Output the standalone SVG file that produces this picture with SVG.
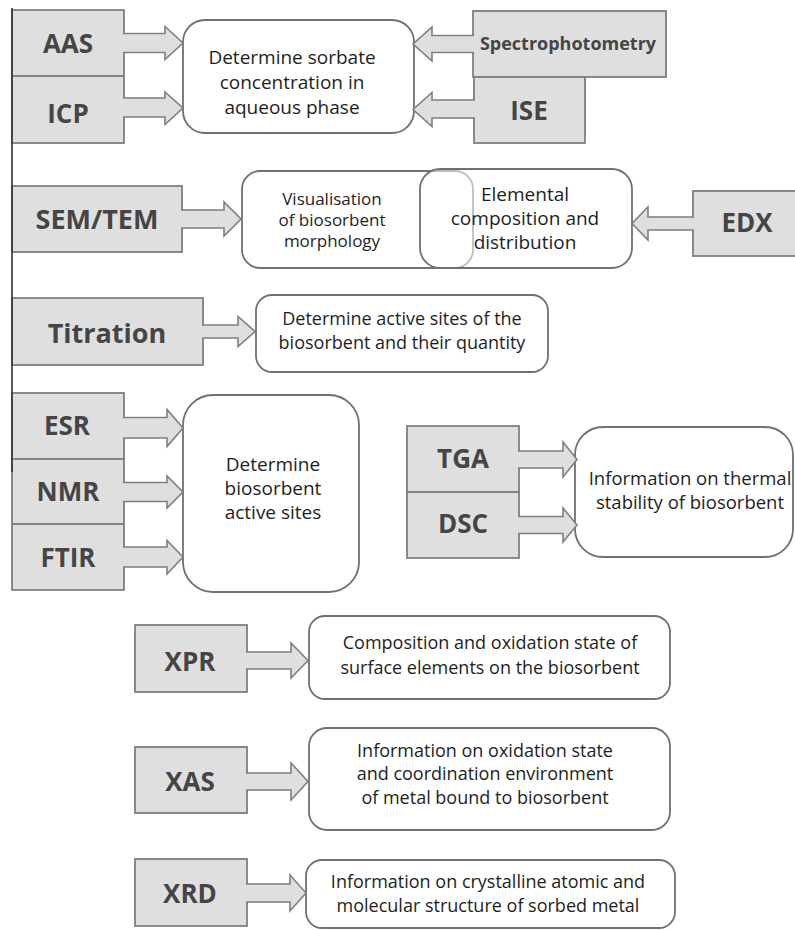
<svg xmlns="http://www.w3.org/2000/svg" width="795" height="930" viewBox="0 0 795 930">
<style>
.box{fill:#dfdfdf;stroke:#7f7f7f;stroke-width:1.8}
.rbox{fill:#ffffff;stroke:#707070;stroke-width:1.8}
.arr{fill:#dfdfdf;stroke:#7f7f7f;stroke-width:1.6;stroke-linejoin:miter}
.lab{font-family:"Open Sans","Noto Sans",sans-serif;font-weight:bold;font-size:26px;fill:#454545;text-anchor:middle}
.txt{font-family:"Open Sans","Noto Sans",sans-serif;font-size:19px;fill:#1e1e1e;text-anchor:middle}
</style>
<rect width="795" height="930" fill="#ffffff"/>

<g id="target-aqueous"><rect class="rbox" x="183" y="20" width="231" height="113" rx="22"/>
<text class="txt" style="font-size:19px"><tspan x="292" y="64">Determine sorbate</tspan><tspan x="292" y="89">concentration in</tspan><tspan x="292" y="114">aqueous phase</tspan></text></g>

<g id="node-AAS"><rect class="box" x="12" y="10" width="112" height="66"/><text class="lab" x="68" y="53">AAS</text></g>
<g id="node-ICP"><rect class="box" x="12" y="76" width="112" height="67"/><text class="lab" x="68" y="123">ICP</text></g>
<g id="node-Spectrophotometry"><rect class="box" x="473" y="11" width="193" height="66"/><text class="lab" style="font-size:18px" x="568" y="50">Spectrophotometry</text></g>
<g id="node-ISE"><rect class="box" x="474" y="77" width="111" height="66"/><text class="lab" x="529" y="120">ISE</text></g>

<g id="target-visualisation"><rect class="rbox" x="242" y="171" width="231" height="97" rx="18"/>
<text class="txt" style="font-size:17px"><tspan x="332" y="205">Visualisation</tspan><tspan x="332" y="226">of biosorbent</tspan><tspan x="332" y="247">morphology</tspan></text></g>
<g id="target-elemental"><rect class="rbox" style="fill-opacity:0.55" x="420" y="169" width="212" height="99" rx="20"/>
<text class="txt"><tspan x="525" y="201">Elemental</tspan><tspan x="525" y="225">composition and</tspan><tspan x="525" y="249">distribution</tspan></text></g>
<g id="node-SEMTEM"><rect class="box" x="12" y="186" width="170" height="66"/><text class="lab" style="font-size:27px" x="97" y="229">SEM/TEM</text></g>
<g id="node-EDX"><rect class="box" x="693" y="191" width="110" height="65"/><text class="lab" x="747" y="232">EDX</text></g>

<g id="target-titration"><rect class="rbox" x="256" y="295" width="292" height="77" rx="16"/>
<text class="txt" style="font-size:18px"><tspan x="402" y="325">Determine active sites of the</tspan><tspan x="402" y="349">biosorbent and their quantity</tspan></text></g>
<g id="node-Titration"><rect class="box" x="12" y="298" width="191" height="67"/><text class="lab" style="font-size:27px" x="107" y="343">Titration</text></g>

<g id="target-active"><rect class="rbox" x="183" y="395" width="176" height="197" rx="30"/>
<text class="txt"><tspan x="273" y="471">Determine</tspan><tspan x="273" y="495">biosorbent</tspan><tspan x="273" y="519">active sites</tspan></text></g>
<g id="node-ESR"><rect class="box" x="12" y="393" width="112" height="66"/><text class="lab" x="67" y="435">ESR</text></g>
<g id="node-NMR"><rect class="box" x="12" y="459" width="112" height="65"/><text class="lab" x="68" y="501">NMR</text></g>
<g id="node-FTIR"><rect class="box" x="12" y="524" width="112" height="66"/><text class="lab" x="68" y="567">FTIR</text></g>

<g id="target-thermal"><rect class="rbox" x="575" y="427" width="218" height="130" rx="28"/>
<text class="txt" style="font-size:18.5px"><tspan x="690" y="485">Information on thermal</tspan><tspan x="690" y="509">stability of biosorbent</tspan></text></g>
<g id="node-TGA"><rect class="box" x="407" y="426" width="112" height="66"/><text class="lab" x="463" y="468">TGA</text></g>
<g id="node-DSC"><rect class="box" x="407" y="492" width="112" height="66"/><text class="lab" x="463" y="533">DSC</text></g>

<g id="target-composition"><rect class="rbox" x="309" y="616" width="361" height="83" rx="16"/>
<text class="txt" style="font-size:18px"><tspan x="490" y="649">Composition and oxidation state of</tspan><tspan x="490" y="674">surface elements on the biosorbent</tspan></text></g>
<g id="node-XPR"><rect class="box" x="135" y="625" width="112" height="67"/><text class="lab" x="190" y="671">XPR</text></g>

<g id="target-oxidation"><rect class="rbox" x="309" y="728" width="361" height="102" rx="18"/>
<text class="txt" style="font-size:18px"><tspan x="485" y="757">Information on oxidation state</tspan><tspan x="485" y="780">and coordination environment</tspan><tspan x="485" y="804">of metal bound to biosorbent</tspan></text></g>
<g id="node-XAS"><rect class="box" x="135" y="747" width="112" height="66"/><text class="lab" x="190" y="791">XAS</text></g>

<g id="target-crystalline"><rect class="rbox" x="306" y="860" width="369" height="68" rx="16"/>
<text class="txt" style="font-size:18px"><tspan x="488" y="888">Information on crystalline atomic and</tspan><tspan x="488" y="912">molecular structure of sorbed metal</tspan></text></g>
<g id="node-XRD"><rect class="box" x="135" y="859" width="112" height="67"/><text class="lab" x="190" y="903">XRD</text></g>

<line x1="12" y1="8" x2="12" y2="472" stroke="#333333" stroke-width="1.6"/>

<g id="connectors">
<path class="arr" d="M123,33.5 H165 V26.5 L183,43 L165,59.5 V52.5 H123"/>
<path class="arr" d="M123,98 H165 V92 L183,108 L165,124.5 V117 H123"/>
<path class="arr" d="M474,35.5 H432 V27 L413,44 L432,61 V52.5 H474"/>
<path class="arr" d="M475,100 H432 V92.5 L413,109.5 L432,126.5 V118 H475"/>
<path class="arr" d="M181,210 H224 V202 L241,219 L224,236 V228 H181"/>
<path class="arr" d="M694,217 H648 V207 L632,223.5 L648,240 V230 H694"/>
<path class="arr" d="M202,325 H238 V316.5 L255,331.5 L238,346.5 V338 H202"/>
<path class="arr" d="M123,417.5 H167 V409.5 L183,428 L167,446.5 V438 H123"/>
<path class="arr" d="M123,482.5 H167 V476 L183,492 L167,508 V501.5 H123"/>
<path class="arr" d="M123,547 H167 V540.5 L183,557 L167,574 V567 H123"/>
<path class="arr" d="M518,451 H563 V442 L577,459.5 L563,477 V468 H518"/>
<path class="arr" d="M518,516.5 H563 V508 L577,525 L563,542 V533.5 H518"/>
<path class="arr" d="M246,652 H291 V643 L308,660.5 L291,678 V669 H246"/>
<path class="arr" d="M246,773 H291 V763 L308,781.5 L291,800 V790 H246"/>
<path class="arr" d="M246,884 H290 V875 L306,893 L290,911 V902 H246"/>
</g>
</svg>
